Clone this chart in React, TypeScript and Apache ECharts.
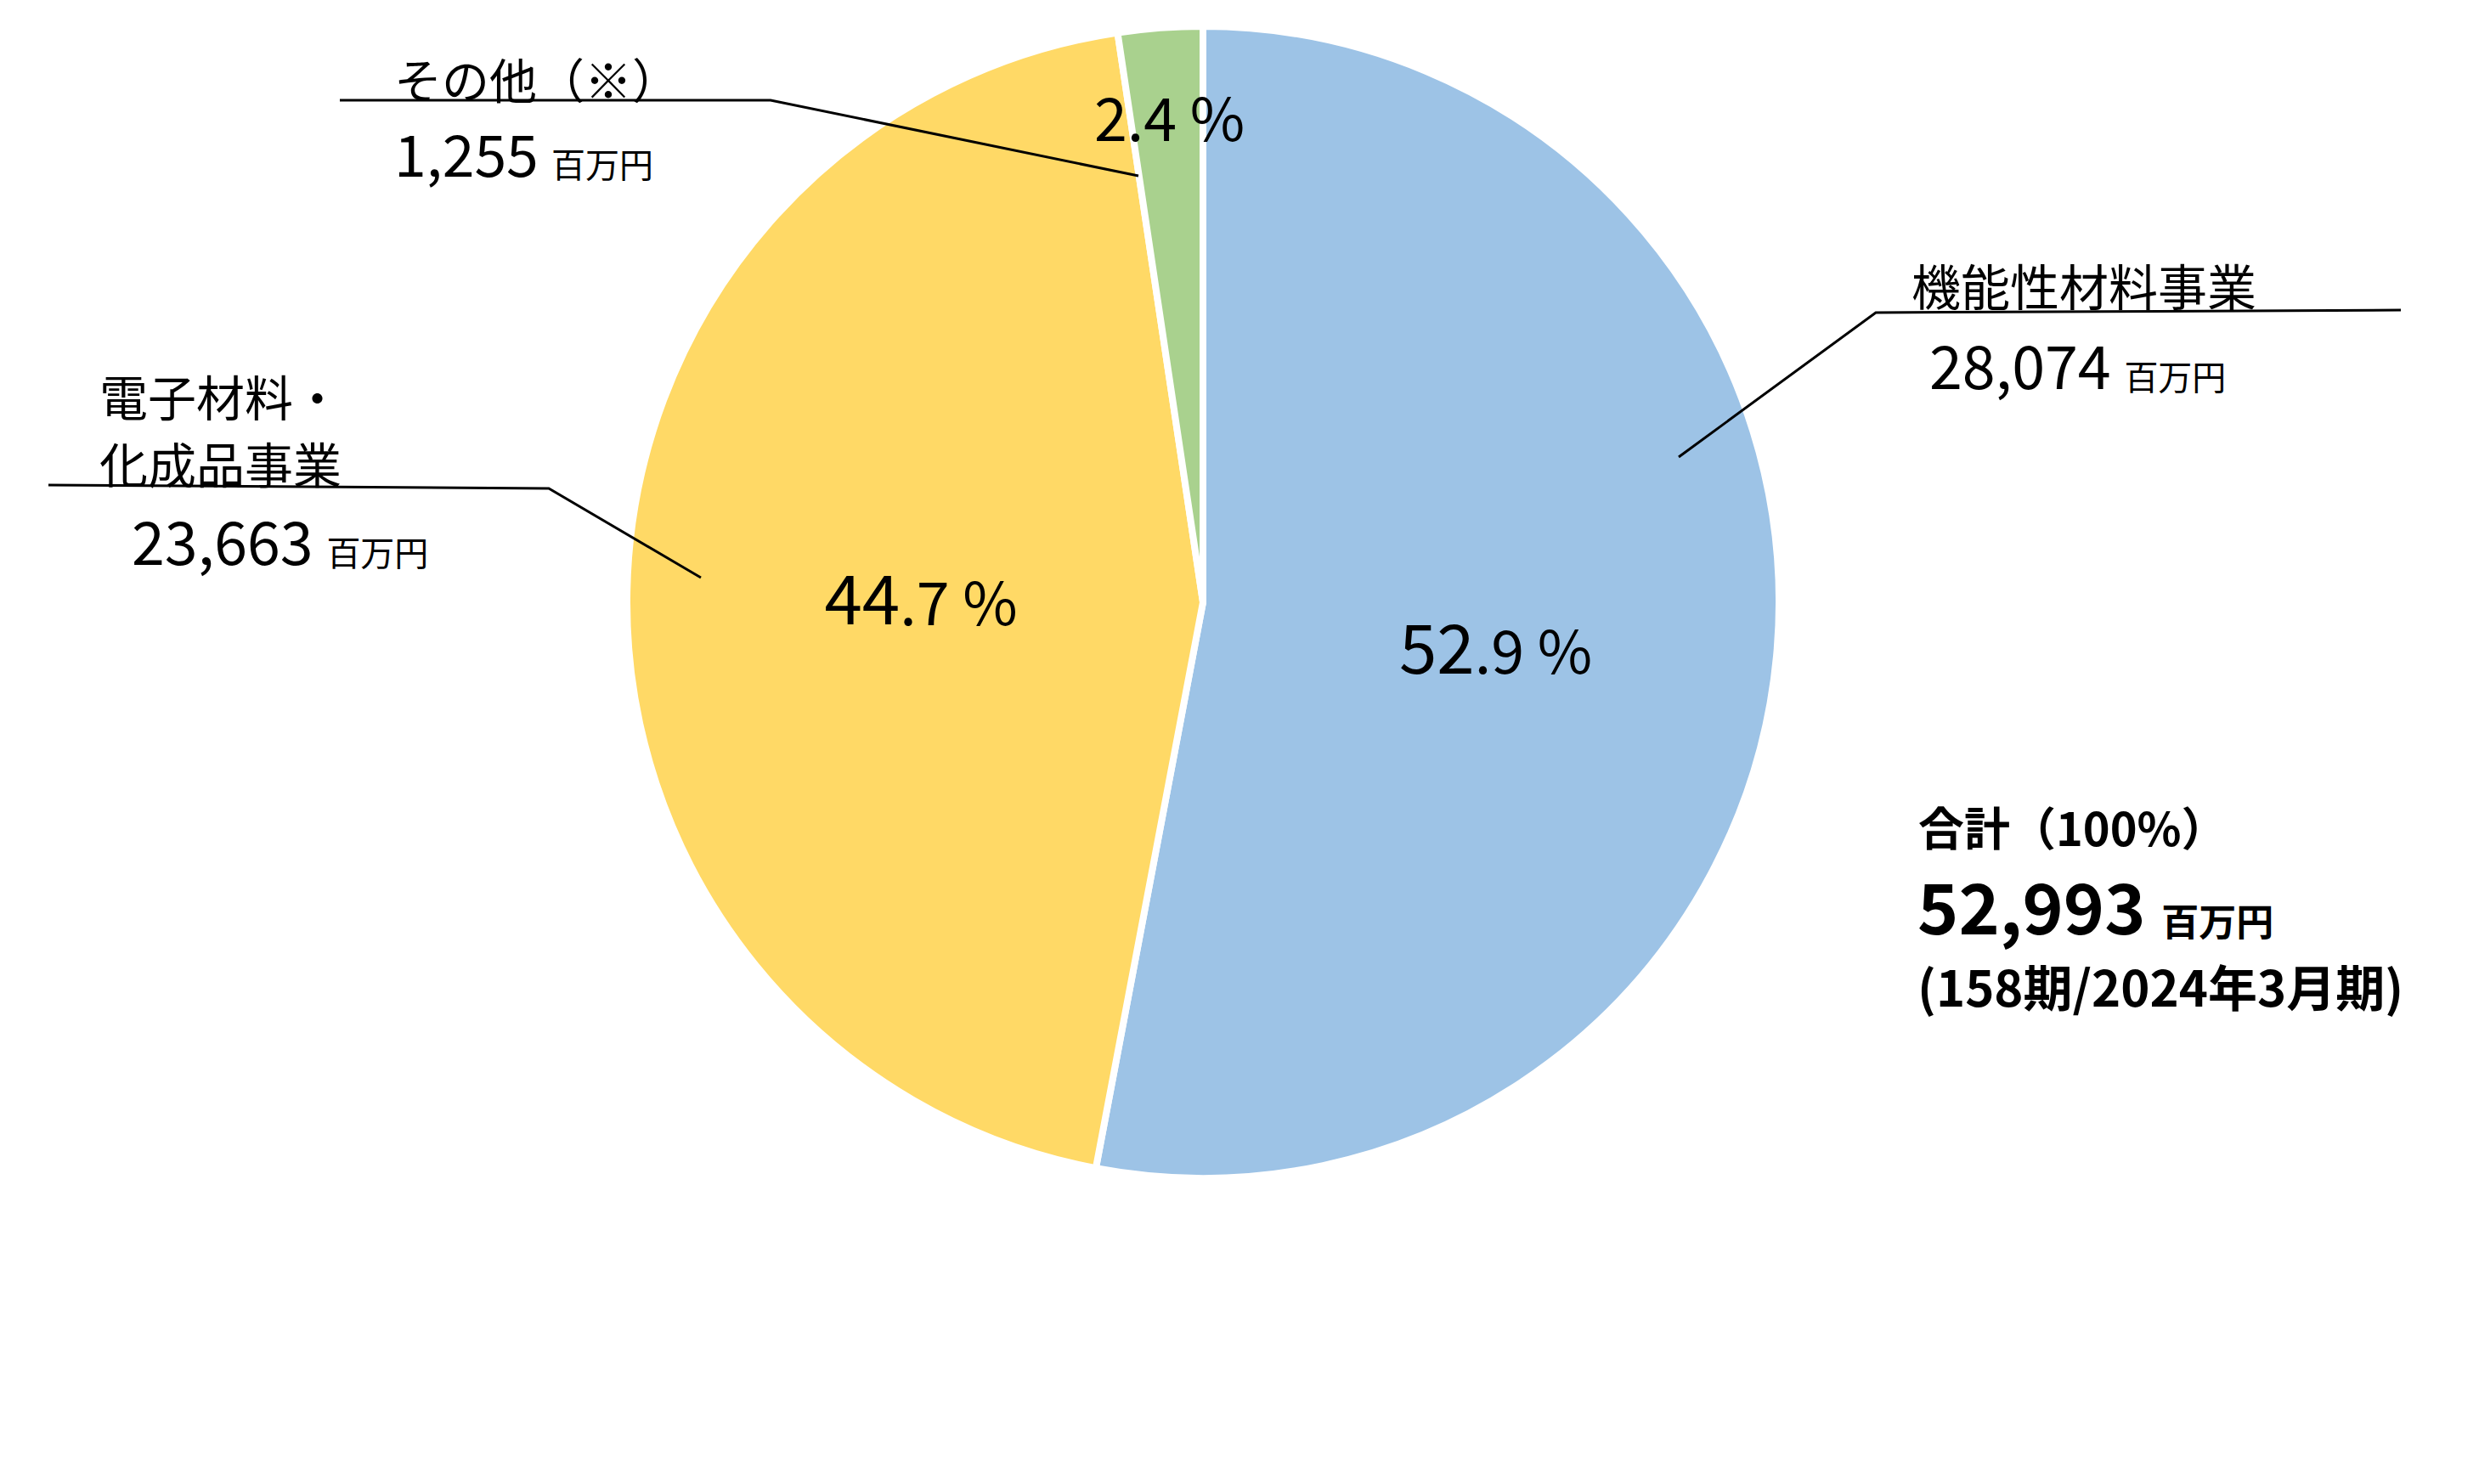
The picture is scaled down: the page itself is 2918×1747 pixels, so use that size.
import React, { useEffect, useRef } from "react";
import * as echarts from "echarts";

// segment sales, 百万円 (158期 / 2024年3月期)
const categories = ["機能性材料事業", "電子材料・\n化成品事業", "その他（※）"];
const salesValues = [28074, 23663, 1255];
const shareLabels = ["52.9", "44.7", "2.4"];
const totalSales = 52993;
const totalShare = "100%";
const periodLabel = "(158期/2024年3月期)";
const unitLabel = "百万円";

const sliceColors = ["#9DC3E6", "#FFD966", "#A9D18E"];
const FONT = "'Noto Sans CJK JP', 'Noto Sans', sans-serif";

// nudges for the percentage labels (Excel puts them a bit off the mid radius)
const shareShift = [
  [4, 17],
  [10, -2],
  [-14, -232],
];

const fmt = (v: number) => v.toLocaleString("en-US");

function valueText(x: number, y: number, value: number, big: number, small: number, weight: string = "normal") {
  return {
    type: "text",
    x,
    y,
    z: 100,
    style: {
      text: `{n|${fmt(value)} }{u|${unitLabel}}`,
      textAlign: "left",
      textVerticalAlign: "middle",
      rich: {
        n: { fontSize: big, fontFamily: FONT, fontWeight: weight, fill: "#000", color: "#000", verticalAlign: "bottom" },
        u: { fontSize: small, fontFamily: FONT, fontWeight: weight, fill: "#000", color: "#000", verticalAlign: "bottom" },
      },
    },
  };
}

function plainText(x: number, y: number, text: string, size: number, weight: string = "normal") {
  return {
    type: "text",
    x,
    y,
    z: 100,
    style: {
      text,
      fontSize: size,
      fontFamily: FONT,
      fontWeight: weight,
      fill: "#000",
      textAlign: "left",
      textVerticalAlign: "middle",
    },
  };
}

function leader(points: number[][]) {
  return {
    type: "polyline",
    z: 100,
    shape: { points },
    style: { stroke: "#000", lineWidth: 3, fill: null },
  };
}

export default function App() {
  const chartRef = useRef<HTMLDivElement>(null);

  useEffect(() => {
    document.body.style.margin = "0";
    document.body.style.overflow = "hidden";
    if (!chartRef.current) return;
    const chart = echarts.init(chartRef.current, null, { renderer: "svg" });

    const option = {
      animation: false,
      backgroundColor: "#fff",
      series: [
        {
          type: "pie",
          center: [1416, 709],
          radius: 678,
          startAngle: 90,
          clockwise: true,
          silent: true,
          avoidLabelOverlap: false,
          itemStyle: { borderColor: "#fff", borderWidth: 8 },
          label: {
            show: true,
            position: "inside",
            formatter: (p: any) => {
              const s = shareLabels[p.dataIndex];
              if (p.dataIndex === 2) return `{b|${s} %}`;
              const [i, d] = s.split(".");
              return `{a|${i}}{b|.${d} %}`;
            },
            rich: {
              a: { fontSize: 80, fontFamily: FONT, color: "#000", verticalAlign: "bottom" },
              b: { fontSize: 70, fontFamily: FONT, color: "#000", verticalAlign: "bottom" },
            },
          },
          labelLine: { show: false },
          labelLayout: (p: any) => ({ dx: shareShift[p.dataIndex][0], dy: shareShift[p.dataIndex][1] }),
          emphasis: { disabled: true },
          data: categories.map((name, i) => ({
            name,
            value: salesValues[i],
            itemStyle: { color: sliceColors[i] },
          })),
        },
      ],
      graphic: [
        // その他
        leader([[400, 118], [907, 118], [1340, 207]]),
        plainText(464, 91, categories[2], 56),
        valueText(464, 178, salesValues[2], 68, 40),
        // 電子材料・化成品事業
        leader([[57, 571], [646, 575], [825, 680]]),
        plainText(117, 465, categories[1].split("\n")[0], 57),
        plainText(117, 544, categories[1].split("\n")[1], 57),
        valueText(155, 634, salesValues[1], 70, 40),
        // 機能性材料事業
        leader([[2826, 365], [2208, 368], [1976, 538]]),
        plainText(2250, 335, categories[0], 58),
        valueText(2271, 427, salesValues[0], 70, 40),
        // 合計
        plainText(2258, 972, `合計（${totalShare}）`, 54, "bold"),
        valueText(2257, 1064, totalSales, 82, 44, "bold"),
        plainText(2257, 1160, periodLabel, 58, "bold"),
      ],
    };

    chart.setOption(option as any);
    return () => chart.dispose();
  }, []);

  return <div ref={chartRef} style={{ width: "2918px", height: "1747px" }} />;
}
